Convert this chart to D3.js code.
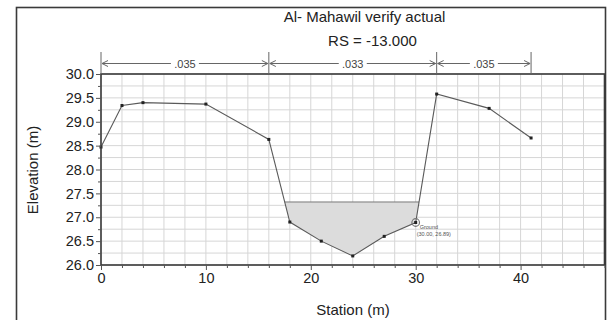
<!DOCTYPE html>
<html>
<head>
<meta charset="utf-8">
<script src="https://cdn.jsdelivr.net/npm/d3@7"></script>
<style>
  html, body { margin: 0; padding: 0; background: #fff; }
  svg { display: block; font-family: "Liberation Sans", Arial, sans-serif; }
</style>
</head>
<body>
<svg id="chart" width="608" height="320"></svg>
<script>
// Cross-section ground profile (station m, elevation m)
const stations   = [0, 2, 4, 10, 16, 18, 21, 24, 27, 30, 32, 37, 41];
const elevations = [28.47, 29.34, 29.40, 29.37, 28.63, 26.90, 26.50, 26.19, 26.60, 26.89, 29.58, 29.28, 28.66];

// Water surface elevation
const waterSurface = 27.32;

// Manning's n zones: break stations and values
const nBreaks = [0, 16, 32, 41];
const nValues = [".035", ".033", ".035"];

// Axis ticks
const xTicks = [0, 10, 20, 30, 40];
const yTicks = [26.0, 26.5, 27.0, 27.5, 28.0, 28.5, 29.0, 29.5, 30.0];

const titleLines = ["Al- Mahawil verify actual", "RS = -13.000"];
const xLabel = "Station (m)";
const yLabel = "Elevation (m)";
const pointLabel = ["Ground", "(30.00, 26.89)"];
const labelPoint = [30.00, 26.89];

const svg = d3.select("#chart");
const plot = { left: 101, top: 74, right: 604.5, bottom: 265 };

const x = d3.scaleLinear().domain([0, 48]).range([plot.left, plot.right]);
const y = d3.scaleLinear().domain([26, 30]).range([plot.bottom, plot.top]);

// outer frame
svg.append("rect")
  .attr("x", 16.5).attr("y", 7.5).attr("width", 589).attr("height", 320)
  .attr("fill", "#fff").attr("stroke", "#3a3a3a").attr("stroke-width", 1.6);

// grid
const g = svg.append("g");
g.selectAll("line.vg").data(d3.range(0, 49, 2)).join("line")
  .attr("x1", d => x(d)).attr("x2", d => x(d))
  .attr("y1", plot.top).attr("y2", plot.bottom)
  .attr("stroke", "#d6d6d6").attr("stroke-width", 1);
g.selectAll("line.hg").data(d3.range(26, 30.01, 0.25)).join("line")
  .attr("x1", plot.left).attr("x2", plot.right)
  .attr("y1", d => y(d)).attr("y2", d => y(d))
  .attr("stroke", "#d6d6d6").attr("stroke-width", 1);

// water area: clip ground polygon below water surface
const profile = stations.map((s, i) => [s, elevations[i]]);
function crossing(a, b, z) {
  const t = (z - a[1]) / (b[1] - a[1]);
  return [a[0] + t * (b[0] - a[0]), z];
}
// find the wetted section around the channel low point
const iMin = d3.minIndex(elevations);
let li = iMin; while (li > 0 && elevations[li - 1] < waterSurface) li--;
let ri = iMin; while (ri < elevations.length - 1 && elevations[ri + 1] < waterSurface) ri++;
const leftEdge = crossing(profile[li - 1], profile[li], waterSurface);
const rightEdge = crossing(profile[ri], profile[ri + 1], waterSurface);
const wet = [leftEdge, ...profile.slice(li, ri + 1), rightEdge];

svg.append("path")
  .attr("d", d3.line().x(d => x(d[0])).y(d => y(d[1]))(wet) + "Z")
  .attr("fill", "#dcdcdc").attr("stroke", "none");
svg.append("line")
  .attr("x1", x(leftEdge[0])).attr("x2", x(rightEdge[0]))
  .attr("y1", y(waterSurface)).attr("y2", y(waterSurface))
  .attr("stroke", "#7a7a7a").attr("stroke-width", 1);

// ground line
svg.append("path")
  .attr("d", d3.line().x(d => x(d[0])).y(d => y(d[1]))(profile))
  .attr("fill", "none").attr("stroke", "#5a5a5a").attr("stroke-width", 1.1);
svg.selectAll("rect.pt").data(profile).join("rect")
  .attr("x", d => x(d[0]) - 1.5).attr("y", d => y(d[1]) - 1.5)
  .attr("width", 3).attr("height", 3).attr("fill", "#222");

// highlighted point
svg.append("circle")
  .attr("cx", x(labelPoint[0])).attr("cy", y(labelPoint[1])).attr("r", 3.8)
  .attr("fill", "none").attr("stroke", "#777").attr("stroke-width", 1.2);
svg.append("text").attr("x", x(labelPoint[0]) + 4).attr("y", y(labelPoint[1]) + 6)
  .attr("font-size", 5.5).attr("fill", "#555").text(pointLabel[0]);
svg.append("text").attr("x", x(labelPoint[0]) + 1).attr("y", y(labelPoint[1]) + 13)
  .attr("font-size", 5.5).attr("fill", "#555").text(pointLabel[1]);

// plot border
svg.append("rect")
  .attr("x", plot.left).attr("y", plot.top)
  .attr("width", plot.right - plot.left).attr("height", plot.bottom - plot.top)
  .attr("fill", "none").attr("stroke", "#3a3a3a").attr("stroke-width", 1.6);

// axes
const yAxis = d3.axisLeft(y).tickValues(yTicks).tickFormat(d3.format(".1f")).tickSize(5).tickPadding(2);
const yg = svg.append("g").attr("transform", `translate(${plot.left},0)`).call(yAxis);
const yMinor = svg.append("g").attr("transform", `translate(${plot.left},0)`)
  .call(d3.axisLeft(y).tickValues(d3.range(26.25, 30, 0.5)).tickSize(3).tickFormat(""));
const xAxis = d3.axisBottom(x).tickValues(xTicks).tickFormat(d3.format("d")).tickSize(5).tickPadding(3);
const xg = svg.append("g").attr("transform", `translate(0,${plot.bottom})`).call(xAxis);
const xMinor = svg.append("g").attr("transform", `translate(0,${plot.bottom})`)
  .call(d3.axisBottom(x).tickValues(d3.range(2, 49, 2).filter(d => d % 10 !== 0)).tickSize(3).tickFormat(""));
[yg, yMinor, xg, xMinor].forEach(a => {
  a.select(".domain").remove();
  a.selectAll("line").attr("stroke", "#555");
  a.selectAll("text").attr("font-size", 14.5).attr("fill", "#222")
    .attr("font-family", "'Liberation Sans', Arial, sans-serif");
});

// axis titles
svg.append("text").attr("x", 353).attr("y", 315).attr("text-anchor", "middle")
  .attr("font-size", 15).attr("fill", "#222").text(xLabel);
svg.append("text").attr("transform", "translate(38,170) rotate(-90)")
  .attr("text-anchor", "middle").attr("font-size", 15).attr("fill", "#222").text(yLabel);

// chart title
svg.append("text").attr("x", 364.5).attr("y", 22).attr("text-anchor", "middle")
  .attr("font-size", 15).attr("fill", "#222").text(titleLines[0]);
svg.append("text").attr("x", 372.5).attr("y", 46).attr("text-anchor", "middle")
  .attr("font-size", 15).attr("fill", "#222").text(titleLines[1]);

// Manning's n zone markers
const nTop = 52, nArrowY = 63.5;
svg.selectAll("line.nb").data(nBreaks).join("line")
  .attr("x1", d => x(d)).attr("x2", d => x(d))
  .attr("y1", nTop).attr("y2", plot.top)
  .attr("stroke", "#666").attr("stroke-width", 1);
nValues.forEach((v, i) => {
  const a = x(nBreaks[i]) + 1, b = x(nBreaks[i + 1]) - 1, m = (a + b) / 2;
  const half = 14;
  svg.append("line").attr("x1", a).attr("x2", m - half).attr("y1", nArrowY).attr("y2", nArrowY)
    .attr("stroke", "#666").attr("stroke-width", 1);
  svg.append("line").attr("x1", m + half).attr("x2", b).attr("y1", nArrowY).attr("y2", nArrowY)
    .attr("stroke", "#666").attr("stroke-width", 1);
  svg.append("path").attr("d", `M${a + 6},${nArrowY - 3}L${a},${nArrowY}L${a + 6},${nArrowY + 3}`)
    .attr("fill", "none").attr("stroke", "#666").attr("stroke-width", 1);
  svg.append("path").attr("d", `M${b - 6},${nArrowY - 3}L${b},${nArrowY}L${b - 6},${nArrowY + 3}`)
    .attr("fill", "none").attr("stroke", "#666").attr("stroke-width", 1);
  svg.append("text").attr("x", m).attr("y", nArrowY + 4).attr("text-anchor", "middle")
    .attr("font-size", 11).attr("fill", "#444").text(v);
});
</script>
</body>
</html>
